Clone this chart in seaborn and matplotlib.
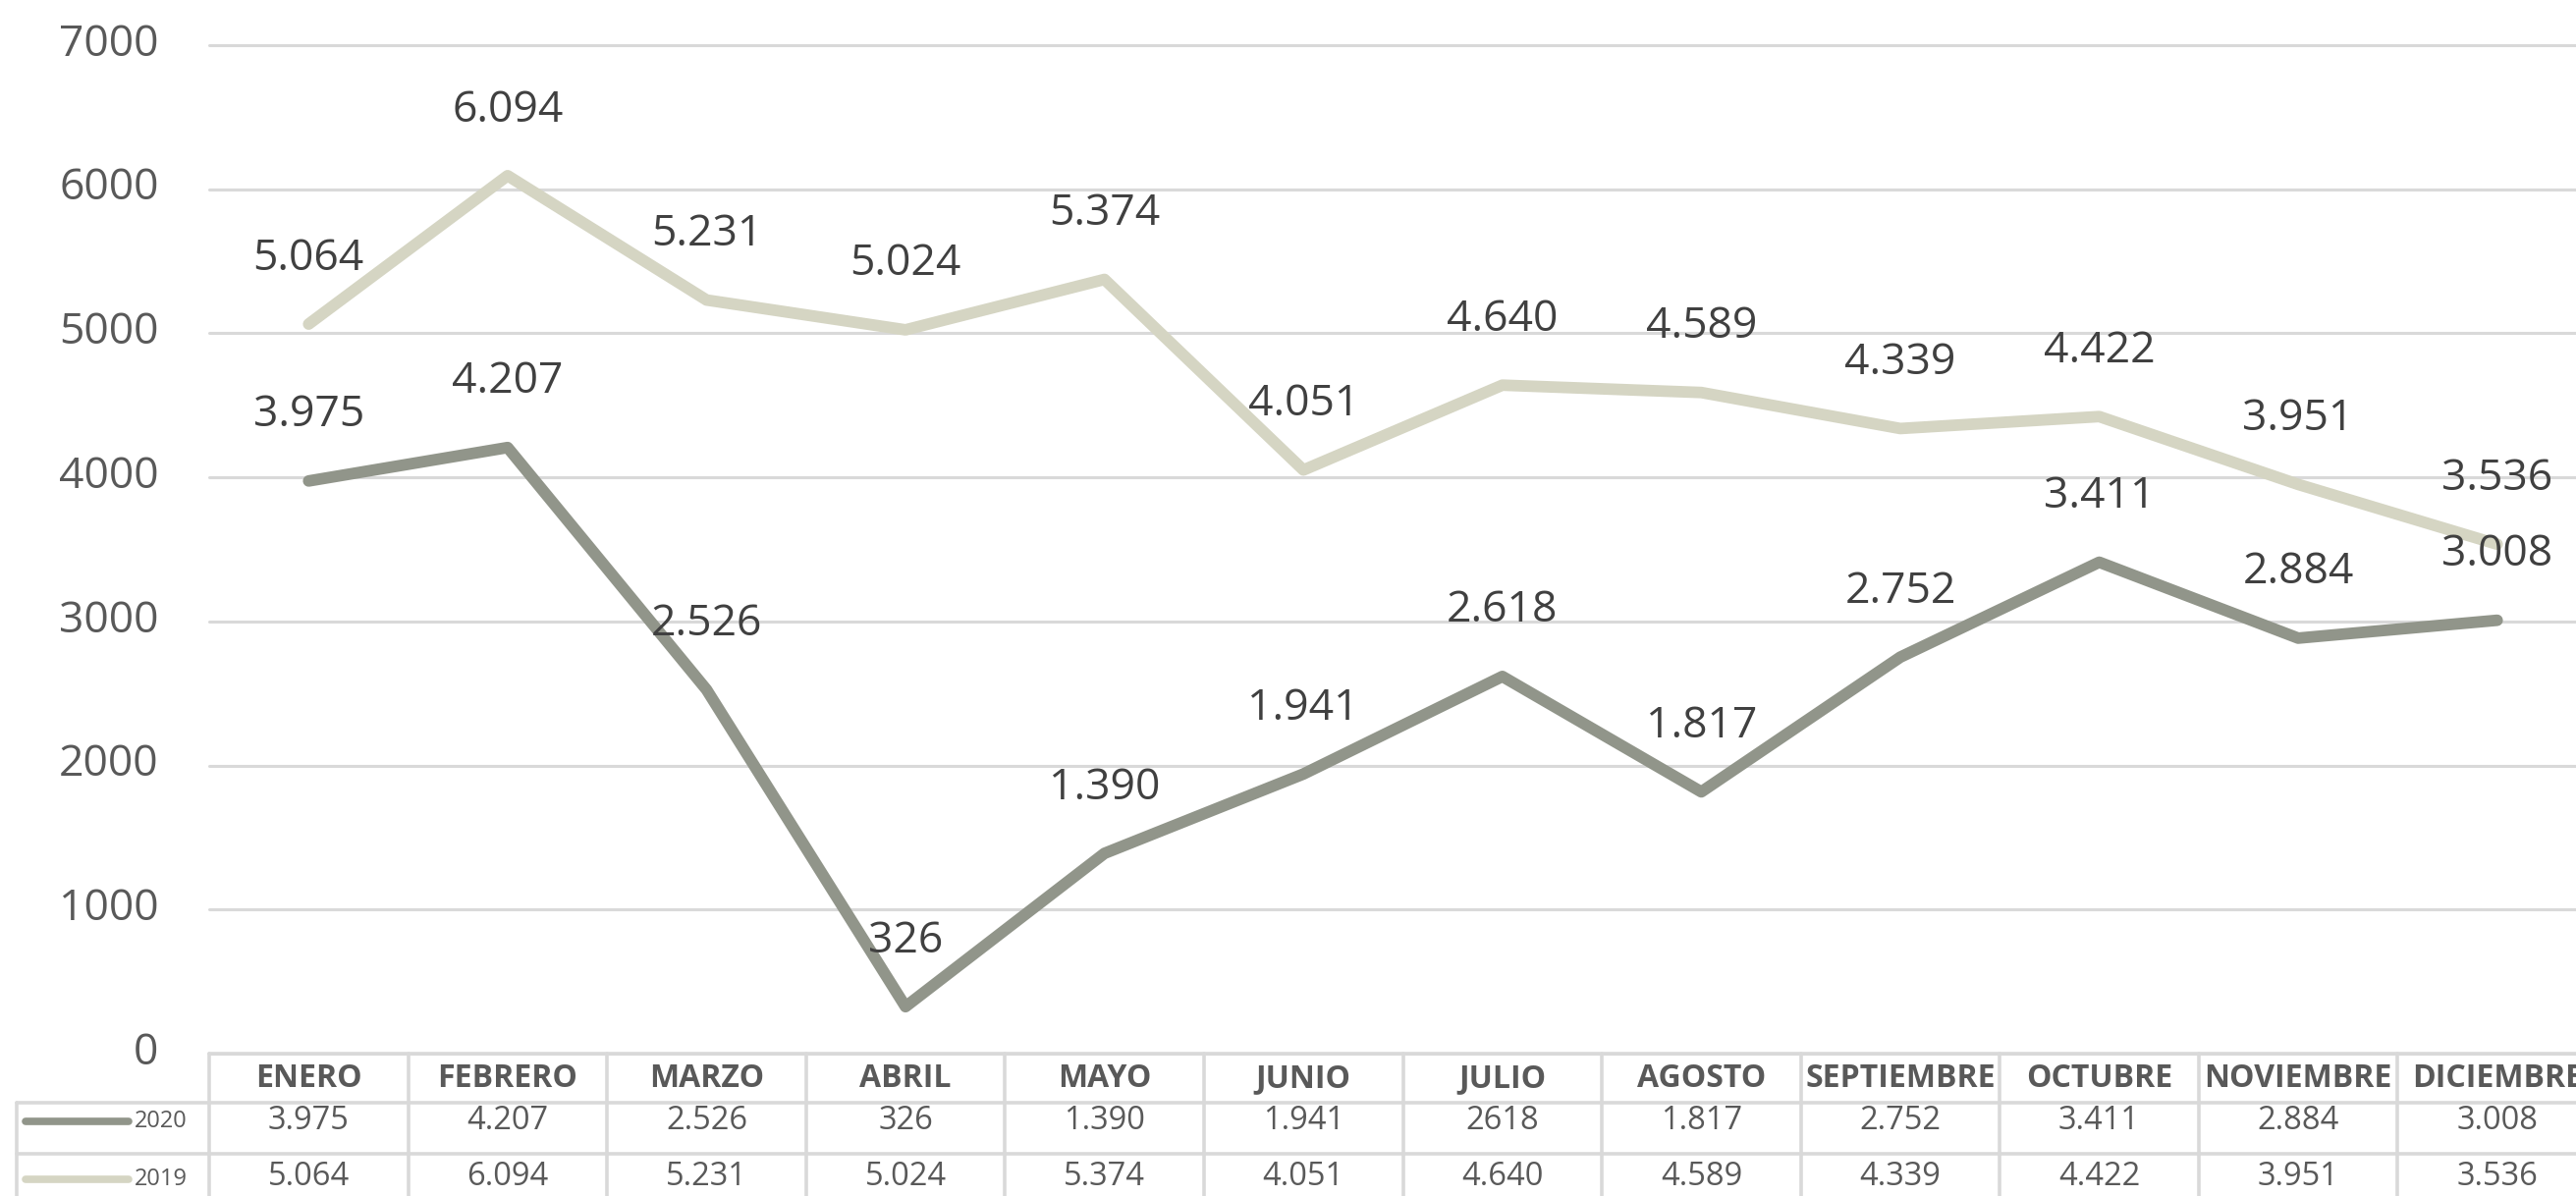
import numpy as np
import pandas as pd
import matplotlib
matplotlib.use("Agg")
import matplotlib.pyplot as plt
import matplotlib.transforms as mtransforms
import seaborn as sns

# ---------------------------------------------------------------
# Datos
# ---------------------------------------------------------------
meses = ["ENERO", "FEBRERO", "MARZO", "ABRIL", "MAYO", "JUNIO", "JULIO",
         "AGOSTO", "SEPTIEMBRE", "OCTUBRE", "NOVIEMBRE", "DICIEMBRE"]
ventas_2020 = [3975, 4207, 2526, 326, 1390, 1941, 2618, 1817, 2752, 3411, 2884, 3008]
ventas_2019 = [5064, 6094, 5231, 5024, 5374, 4051, 4640, 4589, 4339, 4422, 3951, 3536]
y_ticks = [0, 1000, 2000, 3000, 4000, 5000, 6000, 7000]

color_2020 = "#91958A"
color_2019 = "#D5D5C3"
color_grid = "#D9D9D9"
color_txt = "#595959"
color_lbl = "#404040"


def fmt(v):
    # separador de miles con punto
    return f"{v:,}".replace(",", ".")


tabla_2020 = [fmt(v) for v in ventas_2020]
tabla_2020[6] = "2618"  # en la tabla original aparece sin punto
tabla_2019 = [fmt(v) for v in ventas_2019]

pos = np.arange(len(meses))
df = pd.DataFrame({
    "pos": np.concatenate([pos, pos]),
    "ventas": ventas_2019 + ventas_2020,
    "anio": ["2019"] * len(meses) + ["2020"] * len(meses),
})

# ---------------------------------------------------------------
# Figura
# ---------------------------------------------------------------
sns.set_style("white")
plt.rcParams["font.family"] = ["Open Sans", "DejaVu Sans"]

fig = plt.figure(figsize=(26.23, 12.18), dpi=100)
ax = fig.add_axes([213 / 2623, 145 / 1218, 2431 / 2623, 1027 / 1218])

sns.lineplot(data=df, x="pos", y="ventas", hue="anio",
             palette={"2019": color_2019, "2020": color_2020},
             linewidth=8.5, sort=False, legend=False, ax=ax,
             solid_capstyle="round", solid_joinstyle="round")

# etiquetas de datos
for serie in (ventas_2019, ventas_2020):
    for x, v in zip(pos, serie):
        ax.annotate(fmt(v), (x, v), xytext=(0, 48), textcoords="offset points",
                    ha="center", va="center", fontsize=32, color=color_lbl)

ax.set_xlim(-0.5, len(meses) - 0.5)
ax.set_ylim(0, 7000)
ax.set_yticks(y_ticks)
ax.set_yticklabels([str(t) for t in y_ticks])
ax.set_xticks([])
ax.set_xlabel("")
ax.set_ylabel("")
ax.tick_params(axis="y", length=0, pad=37, labelsize=32, labelcolor=color_txt)
ax.yaxis.grid(True, color=color_grid, linewidth=2.2)
for gl in ax.get_ygridlines():
    gl.set_clip_on(False)
for s in ax.spines.values():
    s.set_visible(False)
shift = mtransforms.ScaledTranslation(0, 6 / 100, fig.dpi_scale_trans)
for lab in ax.get_yticklabels():
    lab.set_transform(lab.get_transform() + shift)

# ---------------------------------------------------------------
# Tabla de datos bajo el grafico
# ---------------------------------------------------------------
tr = ax.get_xaxis_transform()
x_left = -1.467
x_right = len(meses) + 0.5
y_head = -0.0487
y_r1 = -0.0993
y_bot = -0.2
lkw = dict(color=color_grid, linewidth=2.6, transform=tr, clip_on=False)

ax.plot([-0.5, x_right], [0, 0], **lkw)
ax.plot([x_left, x_right], [y_head, y_head], **lkw)
ax.plot([x_left, x_right], [y_r1, y_r1], **lkw)
for k in range(len(meses) + 1):
    ax.plot([k - 0.5, k - 0.5], [0, y_bot], **lkw)
ax.plot([x_left, x_left], [y_head, y_bot], **lkw)

for x, m, a, b in zip(pos, meses, tabla_2020, tabla_2019):
    ax.text(x, -0.0245, m, transform=tr, ha="center", va="center",
            fontsize=23, fontweight="bold", color=color_txt, clip_on=False)
    ax.text(x, -0.0670, a, transform=tr, ha="center", va="center",
            fontsize=23.5, color=color_txt, clip_on=False)
    ax.text(x, -0.1225, b, transform=tr, ha="center", va="center",
            fontsize=23.5, color=color_txt, clip_on=False)

# muestras de leyenda en la primera columna
for anio, col, yy in (("2020", color_2020, -0.0675), ("2019", color_2019, -0.1245)):
    ax.plot([-1.423, -0.905], [yy, yy], color=col, linewidth=5.5,
            solid_capstyle="round", transform=tr, clip_on=False)
    ax.text(-0.875, yy, anio, transform=tr, ha="left", va="center",
            fontsize=17, color=color_txt, clip_on=False)

fig.savefig("out.png", dpi=100)
